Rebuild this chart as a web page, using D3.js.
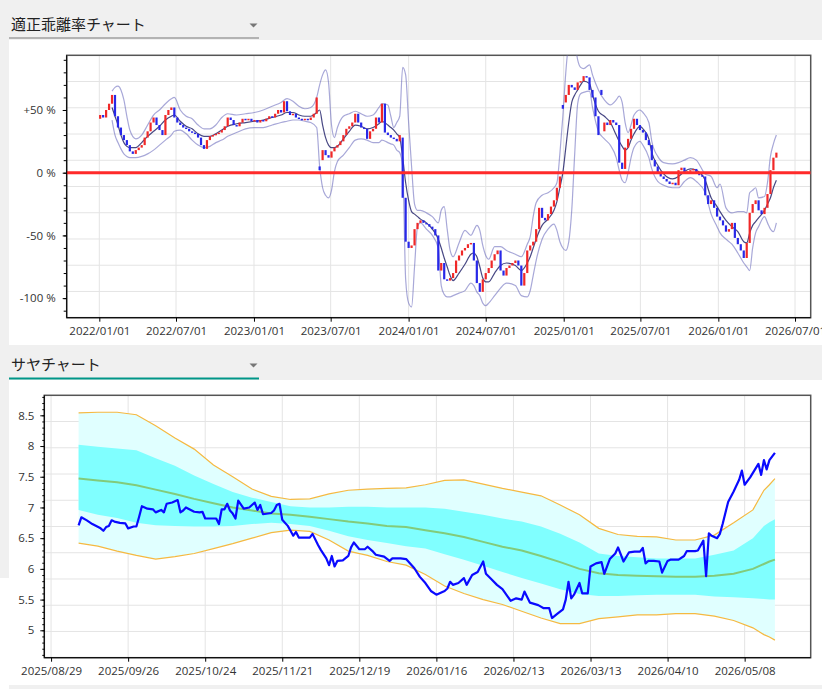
<!DOCTYPE html>
<html>
<head>
<meta charset="utf-8">
<script src="https://cdn.jsdelivr.net/npm/d3@7"></script>
<style>
  body { margin: 0; background: #f0f0f0; }
  svg { display: block; }
  .tick text { font-family: "Open Sans", "Noto Sans", sans-serif; font-size: 11.5px; fill: #333; }
  .tick line { stroke: #000; }
  .domain { stroke: #000; }
</style>
</head>
<body>
<svg width="822" height="689"></svg>
<script>
// ---- 適正乖離率チャート : weekly candles (%) ----
const weekStart = "2022/01/03";
const weekClose = [
  46,44,50,55,62,45,36,30,26,22, 17,15,18,20,22,28,33,40,44,38,
  34,30,46,50,52,44,40,38,36,35, 33,32,31,28,22,19,26,29,30,31,
  32,34,37,44,42,38,37,40,43,42, 43,41,42,40,42,41,43,45,44,47,
  50,48,57,49,46,47,44,43,42,43, 42,44,47,60,2,18,14,12,17,20,
  22,25,30,35,37,40,47,40,36,35, 27,33,35,44,40,55,32,30,28,27,
  25,30,-20,-55,-60,-58,-45,-40,-38,-40, -41,-43,-45,-50,-78,-72,-85,-86,-84,-80,
  -70,-66,-62,-60,-57,-56,-70,-88,-95,-85, -80,-76,-70,-65,-62,-78,-82,-76,-74,-72,
  -70,-74,-90,-80,-62,-58,-55,-45,-28,-36, -38,-33,-27,-22,-12,-3,51,62,70,68,
  66,72,73,77,76,66,60,45,30,62, 40,38,42,40,38,8,3,20,27,35,
  43,38,34,32,26,22,10,5,0,-3, -5,-7,-9,-8,-10,2,4,0,1,2,
  3,0,-2,-3,-18,-25,-22,-28,-35,-38, -42,-47,-45,-40,-52,-57,-62,-68,-56,-32,
  -25,-22,-30,-33,-28,-17,2,12,16
];
const weekOpen = [
  43,46,44,50,55,62,45,36,30,26, 22,17,15,18,20,22,28,33,40,44,
  38,34,30,46,50,52,44,40,38,36, 35,33,32,31,28,22,19,26,29,30,
  31,32,34,37,44,42,38,37,40,43, 42,43,41,42,40,42,41,43,45,44,
  47,50,48,57,49,46,47,44,43,42, 43,42,44,47,5,10,18,14,12,17,
  20,22,25,30,35,37,40,47,40,36, 35,27,33,35,44,40,55,32,30,28,
  27,25,28,-20,-55,-60,-58,-45,-40,-38, -40,-41,-43,-45,-50,-78,-72,-85,-86,-84,
  -80,-70,-66,-62,-60,-57,-56,-70,-88,-95, -85,-80,-76,-70,-65,-62,-78,-82,-76,-74,
  -72,-70,-74,-90,-80,-62,-58,-55,-45,-28, -36,-38,-33,-27,-22,-12,54,56,62,70,
  68,66,72,73,77,76,66,60,45,66, 33,40,38,42,40,38,8,3,20,27,
  35,43,38,34,32,26,22,10,5,0, -3,-5,-7,-9,-8,-10,2,4,0,1,
  2,3,0,-2,-3,-18,-25,-22,-28,-35, -38,-42,-47,-45,-40,-52,-57,-62,-68,-56,
  -32,-25,-22,-30,-33,-28,-17,2,12
];
// moving average and bands, read at selected weeks (index from weekStart)
const bandWeek = [
  4,5,6,7,8,9,10,12,14,16,18,20,22,24,25,27,29,31,33,35,37,39,41,43,46,49,52,55,58,61,
  63,65,67,69,71,73,74,75,76,77,78,79,80,82,84,86,88,90,92,94,95,97,98,99,100,101,102,103,104,105,
  106,107,108,110,112,114,115,116,117,118,119,121,123,125,126,127,128,129,130,131,133,135,137,140,142,144,145,146,147,149,
  151,153,154,155,156,157,158,159,160,161,162,163,165,166,168,170,172,174,175,176,177,178,179,180,182,183,185,186,188,190,
  193,195,197,199,201,204,206,208,209,211,213,215,217,218,219,220,221,222,224,225,226,227,228
];
const bandMid = [
  52,45,38,30,24,21,20,20,24,29,33,37,42,45,46,41,37,35,31,29,29,31,34,37,39,40,41,42,44,46,
  48,48,46,45,45,48,50,38,28,22,20,20,21,27,33,38,37,35,36,39,41,38,36,34,31,28,12,-8,-22,-31,
  -33,-35,-37,-40,-45,-53,-60,-68,-75,-82,-86,-80,-73,-65,-64,-67,-75,-84,-87,-87,-80,-74,-72,-74,-78,-72,-67,-60,-53,-42,
  -37,-30,-23,-12,0,20,40,56,62,66,70,73,71,62,49,45,40,30,25,21,18,20,26,31,37,35,27,16,6,-1,
  -5,-3,1,3,2,-6,-20,-27,-31,-38,-43,-47,-55,-56,-48,-42,-39,-36,-30,-25,-20,-12,-6
];
const bandUpper = [
  65,68,69,66,58,45,34,27,30,38,46,50,55,59,60,50,45,43,38,35,35,38,44,47,46,47,48,50,53,56,
  59,57,53,51,52,60,70,78,82,72,38,28,36,45,47,49,47,45,46,52,55,54,45,36,40,45,84,78,40,5,
  -25,-30,-30,-32,-35,-40,-30,-27,-45,-62,-67,-56,-46,-50,-46,-42,-46,-58,-66,-69,-59,-59,-62,-65,-67,-57,-51,-35,-24,-18,
  -16,-12,-8,15,45,80,105,115,105,90,84,83,86,78,66,58,54,58,61,56,40,32,38,46,50,48,40,25,13,8,
  7,8,10,12,10,-1,-3,-12,-9,-28,-32,-31,-31,-32,-16,-14,-12,-20,-19,-8,13,23,30
];
const bandLower = [
  42,30,24,19,15,13,12,12,13,15,18,22,26,30,33,34,31,26,22,20,21,24,26,29,32,35,36,36,38,40,
  41,42,42,41,40,36,5,-12,-18,-20,-14,1,9,14,20,26,27,26,24,24,26,24,23,22,18,16,5,-85,-104,-107,
  -75,-43,-40,-45,-50,-60,-90,-97,-99,-99,-98,-96,-94,-88,-90,-95,-98,-104,-106,-104,-98,-92,-88,-90,-98,-99,-94,-82,-70,-53,
  -45,-41,-46,-55,-60,-62,-55,-30,15,55,63,64,65,52,33,27,22,12,2,-6,-8,0,12,20,25,22,12,3,-7,-10,
  -12,-12,-7,-4,-7,-16,-33,-43,-48,-53,-57,-64,-72,-75,-78,-60,-48,-43,-35,-40,-45,-47,-40
];
const devTicks = [50, 0, -50, -100];
const devDateTicks = ["2022/01/01","2022/07/01","2023/01/01","2023/07/01","2024/01/01",
  "2024/07/01","2025/01/01","2025/07/01","2026/01/01","2026/07/01"];

// ---- サヤチャート : daily ratio and its ranges ----
const sayaDates = [
  "2025/09/08","2025/09/09","2025/09/11","2025/09/13","2025/09/16","2025/09/17","2025/09/18","2025/09/19","2025/09/20","2025/09/21",
  "2025/09/23","2025/09/25","2025/09/26","2025/09/28","2025/09/29","2025/09/30","2025/10/01","2025/10/03","2025/10/05","2025/10/06",
  "2025/10/08","2025/10/09","2025/10/10","2025/10/12","2025/10/14","2025/10/15","2025/10/16","2025/10/17","2025/10/20","2025/10/22",
  "2025/10/23","2025/10/24","2025/10/26","2025/10/28","2025/10/29","2025/10/30","2025/10/31","2025/11/01","2025/11/02","2025/11/03",
  "2025/11/04","2025/11/05","2025/11/07","2025/11/09","2025/11/11","2025/11/12","2025/11/13","2025/11/14","2025/11/17","2025/11/18",
  "2025/11/19","2025/11/20","2025/11/21","2025/11/23","2025/11/24","2025/11/25","2025/11/26","2025/11/27","2025/12/01","2025/12/02",
  "2025/12/04","2025/12/05","2025/12/07","2025/12/08","2025/12/09","2025/12/10","2025/12/11","2025/12/13","2025/12/15","2025/12/16",
  "2025/12/17","2025/12/19","2025/12/21","2025/12/22","2025/12/24","2025/12/25","2025/12/28","2025/12/30","2025/12/31","2026/01/03",
  "2026/01/05","2026/01/08","2026/01/10","2026/01/12","2026/01/14","2026/01/16","2026/01/19","2026/01/20","2026/01/21","2026/01/22",
  "2026/01/24","2026/01/26","2026/01/27","2026/01/29","2026/01/31","2026/02/02","2026/02/03","2026/02/05","2026/02/07","2026/02/09",
  "2026/02/12","2026/02/14","2026/02/16","2026/02/17","2026/02/19","2026/02/22","2026/02/24","2026/02/26","2026/02/27","2026/03/01",
  "2026/03/03","2026/03/04","2026/03/05","2026/03/06","2026/03/07","2026/03/09","2026/03/10","2026/03/12","2026/03/13","2026/03/15",
  "2026/03/17","2026/03/18","2026/03/20","2026/03/22","2026/03/23","2026/03/25","2026/03/27","2026/03/29","2026/03/31","2026/04/01",
  "2026/04/02","2026/04/03","2026/04/05","2026/04/07","2026/04/08","2026/04/10","2026/04/11","2026/04/14","2026/04/16","2026/04/17",
  "2026/04/20","2026/04/21","2026/04/23","2026/04/24","2026/04/25","2026/04/26","2026/04/28","2026/04/29","2026/04/30","2026/05/02",
  "2026/05/04","2026/05/06","2026/05/07","2026/05/08","2026/05/10","2026/05/13","2026/05/14","2026/05/15","2026/05/16","2026/05/17",
  "2026/05/19"
];
const sayaValues = [
  6.71,6.84,6.79,6.73,6.66,6.62,6.68,6.70,6.79,6.77,
  6.75,6.74,6.66,6.69,6.69,6.85,7.02,6.98,6.97,6.92,
  6.96,6.92,7.06,7.08,7.12,6.92,6.95,7.00,6.93,6.92,
  6.93,6.82,6.82,6.82,6.73,6.97,6.97,7.06,6.95,6.90,
  6.82,7.11,6.98,7.00,7.08,6.96,7.04,6.89,6.91,6.95,
  7.04,7.06,6.80,6.70,6.62,6.54,6.60,6.51,6.51,6.57,
  6.39,6.31,6.17,6.06,6.21,6.04,6.13,6.14,6.21,6.35,
  6.43,6.32,6.32,6.36,6.28,6.23,6.20,6.13,6.17,6.17,
  6.16,6.01,5.87,5.77,5.64,5.58,5.64,5.68,5.79,5.74,
  5.77,5.85,5.74,5.90,5.95,6.12,5.92,5.83,5.74,5.67,
  5.48,5.52,5.50,5.63,5.45,5.41,5.36,5.36,5.20,5.27,
  5.34,5.50,5.79,5.52,5.58,5.77,5.60,5.60,6.04,6.09,
  6.11,5.92,6.16,6.25,6.35,6.12,6.27,6.28,6.28,6.34,
  6.09,6.13,6.13,6.12,5.94,6.13,6.15,6.15,6.21,6.29,
  6.29,6.30,6.46,5.88,6.58,6.54,6.50,6.57,6.73,7.09,
  7.26,7.45,7.60,7.37,7.49,7.71,7.53,7.77,7.62,7.77,
  7.89
];
const rangeDates = [
  "2025/09/08","2025/09/15","2025/09/22","2025/09/29","2025/10/06","2025/10/13","2025/10/20","2025/10/27","2025/11/03","2025/11/10",
  "2025/11/17","2025/11/24","2025/12/01","2025/12/08","2025/12/15","2025/12/22","2025/12/29","2026/01/05","2026/01/12","2026/01/19",
  "2026/01/26","2026/02/02","2026/02/09","2026/02/16","2026/02/23","2026/03/02","2026/03/09","2026/03/16","2026/03/23","2026/03/30",
  "2026/04/06","2026/04/13","2026/04/20","2026/04/27","2026/05/04","2026/05/11","2026/05/15","2026/05/17","2026/05/19"
];
const outerUpper = [
  8.54,8.55,8.55,8.51,8.33,8.13,7.95,7.69,7.50,7.30,
  7.18,7.13,7.14,7.22,7.28,7.30,7.31,7.32,7.37,7.44,
  7.45,7.38,7.31,7.25,7.19,7.04,6.88,6.66,6.56,6.53,
  6.52,6.47,6.47,6.55,6.75,6.96,7.28,7.37,7.47
];
const innerUpper = [
  8.02,7.99,7.96,7.93,7.80,7.68,7.52,7.38,7.25,7.16,
  7.09,7.02,7.00,7.00,7.01,7.01,7.00,7.00,7.00,6.98,
  6.93,6.88,6.82,6.77,6.69,6.57,6.43,6.25,6.21,6.19,
  6.17,6.17,6.17,6.23,6.30,6.50,6.70,6.76,6.81
];
const rangeCenter = [
  7.47,7.44,7.41,7.36,7.29,7.22,7.14,7.07,7.00,6.95,
  6.90,6.88,6.85,6.81,6.77,6.74,6.70,6.68,6.63,6.58,
  6.52,6.44,6.36,6.30,6.21,6.11,6.00,5.93,5.90,5.89,
  5.88,5.87,5.87,5.89,5.92,6.00,6.08,6.12,6.15
];
const innerLower = [
  6.96,6.88,6.83,6.75,6.71,6.70,6.69,6.69,6.70,6.73,
  6.75,6.73,6.70,6.62,6.53,6.47,6.42,6.37,6.33,6.24,
  6.15,6.05,5.95,5.85,5.76,5.67,5.59,5.56,5.56,5.57,
  5.58,5.58,5.58,5.55,5.54,5.52,5.51,5.50,5.50
];
const outerLower = [
  6.42,6.37,6.29,6.22,6.16,6.20,6.25,6.33,6.41,6.50,
  6.59,6.63,6.61,6.47,6.29,6.22,6.12,6.06,5.91,5.72,
  5.60,5.50,5.42,5.31,5.20,5.11,5.11,5.19,5.22,5.25,
  5.25,5.27,5.27,5.23,5.16,5.04,4.93,4.89,4.84
];
const sayaTicks = [8.5, 8, 7.5, 7, 6.5, 6, 5.5, 5];
const sayaDateTicks = ["2025/08/29","2025/09/26","2025/10/24","2025/11/21","2025/12/19",
  "2026/01/16","2026/02/13","2026/03/13","2026/04/10","2026/05/08"];

const parseDate = d3.timeParse("%Y/%m/%d");
const fmtDate = d3.timeFormat("%Y/%m/%d");
const svg = d3.select("svg");

// Layout
let devBox = {left: 66.7, top: 55.3, right: 810.7, bottom: 317.7},
    sayaBox = {left: 44.3, top: 395.3, right: 810.7, bottom: 657.7};

// ======= PAGE / PANEL HEADERS =======
svg.append("rect").attr("width", 822).attr("height", 689).attr("fill", "#f0f0f0");
svg.append("rect").attr("x", 9).attr("y", 40).attr("width", 813).attr("height", 305).attr("fill", "#fff");
svg.append("rect").attr("x", 9).attr("y", 380).attr("width", 813).attr("height", 305).attr("fill", "#fff");
svg.append("rect").attr("x", 0).attr("y", 578).attr("width", 9).attr("height", 111).attr("fill", "#fff");

function header(title, y, lineColor, lineH) {
    svg.append("text")
        .attr("x", 11)
        .attr("y", y)
        .attr("font-family", "'Noto Sans CJK JP', sans-serif")
        .attr("font-size", "15px")
        .attr("fill", "#222")
        .text(title);
    svg.append("path")
        .attr("d", `M249.5,${y - 6.5}L257.5,${y - 6.5}L253.5,${y - 2.5}Z`)
        .attr("fill", "#777");
    svg.append("rect")
        .attr("x", 9).attr("y", y + 7.5)
        .attr("width", 250).attr("height", lineH)
        .attr("fill", lineColor);
}
header("適正乖離率チャート", 30, "#777", 1);
header("サヤチャート", 370, "#009688", 2);

// helper: 10 even horizontal grid divisions + vertical grid at date ticks
function grid(g, box, x, dateTicks) {
    const gy = d3.scaleLinear().domain([0, 10]).range([box.top, box.bottom]);
    g.selectAll("line.hgrid")
        .data(d3.range(1, 10))
        .enter()
        .append("line")
        .attr("x1", box.left).attr("x2", box.right)
        .attr("y1", d => gy(d)).attr("y2", d => gy(d))
        .attr("stroke", "#e4e4e4");
    g.selectAll("line.vgrid")
        .data(dateTicks)
        .enter()
        .append("line")
        .attr("x1", d => x(d)).attr("x2", d => x(d))
        .attr("y1", box.top).attr("y2", box.bottom)
        .attr("stroke", "#e4e4e4");
}

function frame(box) {
    svg.append("rect")
        .attr("x", box.left).attr("y", box.top)
        .attr("width", box.right - box.left).attr("height", box.bottom - box.top)
        .attr("fill", "none")
        .attr("stroke", "#555")
        .attr("stroke-width", 1.5);
}

function clip(id, box) {
    svg.append("clipPath").attr("id", id)
        .append("rect")
        .attr("x", box.left).attr("y", box.top)
        .attr("width", box.right - box.left).attr("height", box.bottom - box.top);
}

// ======= 適正乖離率チャート =======
const xDev = d3.scaleTime()
    .domain([parseDate("2021/10/16"), parseDate("2026/08/07")])
    .range([devBox.left, devBox.right]);
const yDev = d3.scaleLinear()
    .domain([-115.6, 93.6])
    .range([devBox.bottom, devBox.top]);

const devTickDates = devDateTicks.map(parseDate);
grid(svg.append("g"), devBox, xDev, devTickDates);
frame(devBox);
clip("devClip", devBox);

const devPlot = svg.append("g").attr("clip-path", "url(#devClip)");
const weekDate = i => d3.timeDay.offset(parseDate(weekStart), 7 * i);

const bandRows = bandWeek.map((w, k) => ({date: weekDate(w), mid: bandMid[k], up: bandUpper[k], lo: bandLower[k]}));

["up", "lo"].forEach(key => {
    devPlot.append("path")
        .datum(bandRows)
        .attr("fill", "none")
        .attr("stroke", "rgba(110, 110, 190, 0.6)")
        .attr("stroke-width", 1.2)
        .attr("d", d3.line().curve(d3.curveMonotoneX).x(d => xDev(d.date)).y(d => yDev(d[key])));
});
devPlot.append("path")
    .datum(bandRows)
    .attr("fill", "none")
    .attr("stroke", "rgba(40, 40, 110, 0.85)")
    .attr("stroke-width", 1.2)
    .attr("d", d3.line().curve(d3.curveMonotoneX).x(d => xDev(d.date)).y(d => yDev(d.mid)));

const candles = weekClose.map((c, i) => ({date: weekDate(i), open: weekOpen[i], close: c}));
devPlot.selectAll("rect.candle")
    .data(candles)
    .enter()
    .append("rect")
    .attr("class", "candle")
    .attr("x", d => xDev(d.date) - 1.1)
    .attr("width", 2.2)
    .attr("y", d => yDev(Math.max(d.open, d.close)))
    .attr("height", d => Math.max(1.5, Math.abs(yDev(d.open) - yDev(d.close))))
    .attr("fill", d => d.close >= d.open ? "#f02828" : "#2828e8");

devPlot.append("line")
    .attr("x1", devBox.left).attr("x2", devBox.right)
    .attr("y1", yDev(0)).attr("y2", yDev(0))
    .attr("stroke", "#ff2a2a")
    .attr("stroke-width", 3);

// axes
svg.append("g")
    .attr("transform", `translate(${devBox.left},0)`)
    .call(d3.axisLeft(yDev).tickValues(d3.range(-110, 91, 10)).tickSize(3).tickFormat(""))
    .call(g => g.select(".domain").remove());
svg.append("g")
    .attr("transform", `translate(${devBox.left},0)`)
    .call(d3.axisLeft(yDev).tickValues(devTicks).tickSize(4).tickPadding(7)
        .tickFormat(d => (d > 0 ? "+" : "") + d + " %"))
    .call(g => g.select(".domain").attr("d", `M0,${devBox.top}V${devBox.bottom}`));
svg.append("g")
    .attr("transform", `translate(0,${devBox.bottom})`)
    .call(d3.axisBottom(xDev).tickValues(devTickDates).tickSize(4).tickPadding(5).tickFormat(fmtDate))
    .call(g => g.select(".domain").attr("d", `M${devBox.left},0H${devBox.right}`));

// ======= サヤチャート =======
const xSaya = d3.scaleTime()
    .domain([new Date(2025, 7, 26, 13), new Date(2026, 5, 1)])
    .range([sayaBox.left, sayaBox.right]);
const ySaya = d3.scaleLinear()
    .domain([4.554, 8.826])
    .range([sayaBox.bottom, sayaBox.top]);

const sayaTickDates = sayaDateTicks.map(parseDate);
grid(svg.append("g"), sayaBox, xSaya, sayaTickDates);
frame(sayaBox);
clip("sayaClip", sayaBox);

const sayaPlot = svg.append("g").attr("clip-path", "url(#sayaClip)");
const ranges = rangeDates.map((d, k) => ({
    date: parseDate(d), ou: outerUpper[k], iu: innerUpper[k], c: rangeCenter[k], il: innerLower[k], ol: outerLower[k]
}));

sayaPlot.append("path")
    .datum(ranges)
    .attr("fill", "#e0ffff")
    .attr("d", d3.area().x(d => xSaya(d.date)).y0(d => ySaya(d.ol)).y1(d => ySaya(d.ou)));
sayaPlot.append("path")
    .datum(ranges)
    .attr("fill", "#80ffff")
    .attr("d", d3.area().x(d => xSaya(d.date)).y0(d => ySaya(d.il)).y1(d => ySaya(d.iu)));
sayaPlot.append("path")
    .datum(ranges)
    .attr("fill", "none")
    .attr("stroke", "rgba(130, 190, 90, 0.8)")
    .attr("stroke-width", 2)
    .attr("d", d3.line().x(d => xSaya(d.date)).y(d => ySaya(d.c)));
["ou", "ol"].forEach(key => {
    sayaPlot.append("path")
        .datum(ranges)
        .attr("fill", "none")
        .attr("stroke", "#f5b942")
        .attr("stroke-width", 1.2)
        .attr("d", d3.line().x(d => xSaya(d.date)).y(d => ySaya(d[key])));
});

const saya = sayaDates.map((d, k) => ({date: parseDate(d), value: sayaValues[k]}));
sayaPlot.append("path")
    .datum(saya)
    .attr("fill", "none")
    .attr("stroke", "#0a0aff")
    .attr("stroke-width", 2.2)
    .attr("stroke-linejoin", "round")
    .attr("d", d3.line().x(d => xSaya(d.date)).y(d => ySaya(d.value)));

svg.append("g")
    .attr("transform", `translate(${sayaBox.left},0)`)
    .call(d3.axisLeft(ySaya).tickValues(d3.range(46, 89).map(v => v / 10)).tickSize(2).tickFormat(""))
    .call(g => g.select(".domain").remove());
svg.append("g")
    .attr("transform", `translate(${sayaBox.left},0)`)
    .call(d3.axisLeft(ySaya).tickValues(sayaTicks).tickSize(4).tickPadding(6).tickFormat(d => String(d)))
    .call(g => g.select(".domain").attr("d", `M0,${sayaBox.top}V${sayaBox.bottom}`));
svg.append("g")
    .attr("transform", `translate(0,${sayaBox.bottom})`)
    .call(d3.axisBottom(xSaya).tickValues(sayaTickDates).tickSize(4).tickPadding(5).tickFormat(fmtDate))
    .call(g => g.select(".domain").attr("d", `M${sayaBox.left},0H${sayaBox.right}`));
</script>
</body>
</html>
